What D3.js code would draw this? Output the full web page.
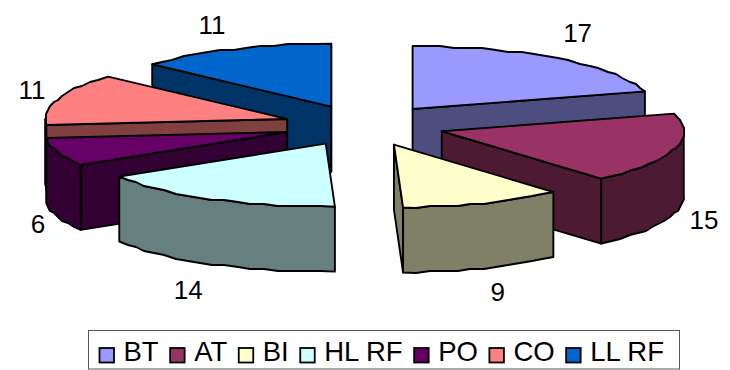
<!DOCTYPE html>
<html>
<head>
<meta charset="utf-8">
<script src="https://cdn.jsdelivr.net/npm/d3@7"></script>
<style>
  html, body { margin: 0; padding: 0; background: #fff; }
  svg { display: block; }
  text { font-family: "Liberation Sans", Arial, sans-serif; fill: #000; }
</style>
</head>
<body>
<div id="container"></div>
<script>
const categories = ["BT", "AT", "BI", "HL RF", "PO", "CO", "LL RF"];
const values = [17, 15, 9, 14, 6, 11, 11];
const colors = ["#9999ff", "#993366", "#ffffcc", "#ccffff", "#660066", "#ff8080", "#0066cc"];

const width = 730;
const height = 370;

// pie geometry
const cx = 364, cy = 125.5;
const rx = 242, ry = 63;
const depth = 65;
const explode = 81;
const explodeY = 0.254;

// small hand nudges for the value labels, same order as values
const labelNudge = [[3, -3], [3, -2], [4, -3], [-10, 0], [7, -2], [1, 0], [-10, 2]];

const svg = d3.select("#container")
  .append("svg")
  .attr("width", width)
  .attr("height", height)
  .attr("viewBox", [0, 0, width, height]);

const pie = d3.pie().sort(null).value(d => d)
const arcs = pie(values).map((d, i) => {
  const mid = (d.startAngle + d.endAngle) / 2;
  return {
    i,
    start: d.startAngle,
    end: d.endAngle,
    mid,
    x: cx + explode * Math.sin(mid),
    y: cy - explode * explodeY * Math.cos(mid)
  };
});

const shade = c => {
  const r = d3.rgb(c);
  return d3.rgb(r.r / 2, r.g / 2, r.b / 2).formatHex();
};

const line = d3.line();

// rim of a slice; snapped to a coarse grid, the original curves are rough polylines
function rim(s, a0, a1) {
  const steps = Math.max(1, Math.ceil((a1 - a0) / 0.06));
  return d3.range(steps + 1).map(k => {
    const a = a0 + (a1 - a0) * k / steps;
    const px = s.x + rx * Math.sin(a);
    const py = s.y - ry * Math.cos(a);
    if (k === 0 || k === steps) return [px, py];
    return [Math.round(px / 2) * 2, Math.round(py / 2) * 2];
  });
}

function face(points, fill) {
  svg.append("path")
    .attr("d", line(points) + "Z")
    .attr("fill", fill)
    .attr("stroke", "#000")
    .attr("stroke-width", 1.9)
    .attr("stroke-linejoin", "round");
}

function drop(points) {
  return points.concat(points.slice().reverse().map(p => [p[0], p[1] + depth]));
}

function drawSlice(s) {
  const top = colors[s.i];
  const side = shade(top);
  const center = [s.x, s.y];
  const p0 = rim(s, s.start, s.start)[0];
  const p1 = rim(s, s.end, s.end)[0];

  // radial side walls, only the ones turned to the viewer
  if (Math.sin(s.start) < 0) face(drop([center, p0]), side);
  if (Math.sin(s.end) > 0) face(drop([center, p1]), side);

  // outer wall is only seen on the front half
  const a0 = Math.max(s.start, Math.PI / 2);
  const a1 = Math.min(s.end, Math.PI * 1.5);
  if (a1 > a0) face(drop(rim(s, a0, a1)), side);

  face([center].concat(rim(s, s.start, s.end)), top);
}

// back slices first, then the ones in front
[6, 5, 4, 0, 1, 2, 3].forEach(i => drawSlice(arcs[i]));

// value labels
svg.append("g").selectAll("text")
  .data(arcs)
  .join("text")
  .attr("text-anchor", "middle")
  .attr("dy", "0.36em")
  .attr("font-size", 26)
  .attr("x", d => d.x + 270 * Math.sin(d.mid) + labelNudge[d.i][0])
  .attr("y", d => d.y - 92 * Math.cos(d.mid) + (Math.cos(d.mid) < 0 ? depth : 0) + labelNudge[d.i][1])
  .text(d => values[d.i]);

// legend
const legend = svg.append("g");
legend.append("rect")
  .attr("x", 88.5).attr("y", 330.5)
  .attr("width", 591).attr("height", 38.5)
  .attr("fill", "#fff")
  .attr("stroke", "#555")
  .attr("stroke-width", 1);

const probe = svg.append("text").attr("font-size", 27.5);
let lx = 99.5;
categories.forEach((c, i) => {
  legend.append("rect")
    .attr("x", lx).attr("y", 348)
    .attr("width", 14.5).attr("height", 14.5)
    .attr("fill", colors[i])
    .attr("stroke", "#000")
    .attr("stroke-width", 1.8);
  legend.append("text")
    .attr("x", lx + 24).attr("y", 361)
    .attr("font-size", 27.5)
    .text(c);
  lx += 24 + probe.text(c).node().getComputedTextLength() + 11.5;
});
probe.remove();
</script>
</body>
</html>
